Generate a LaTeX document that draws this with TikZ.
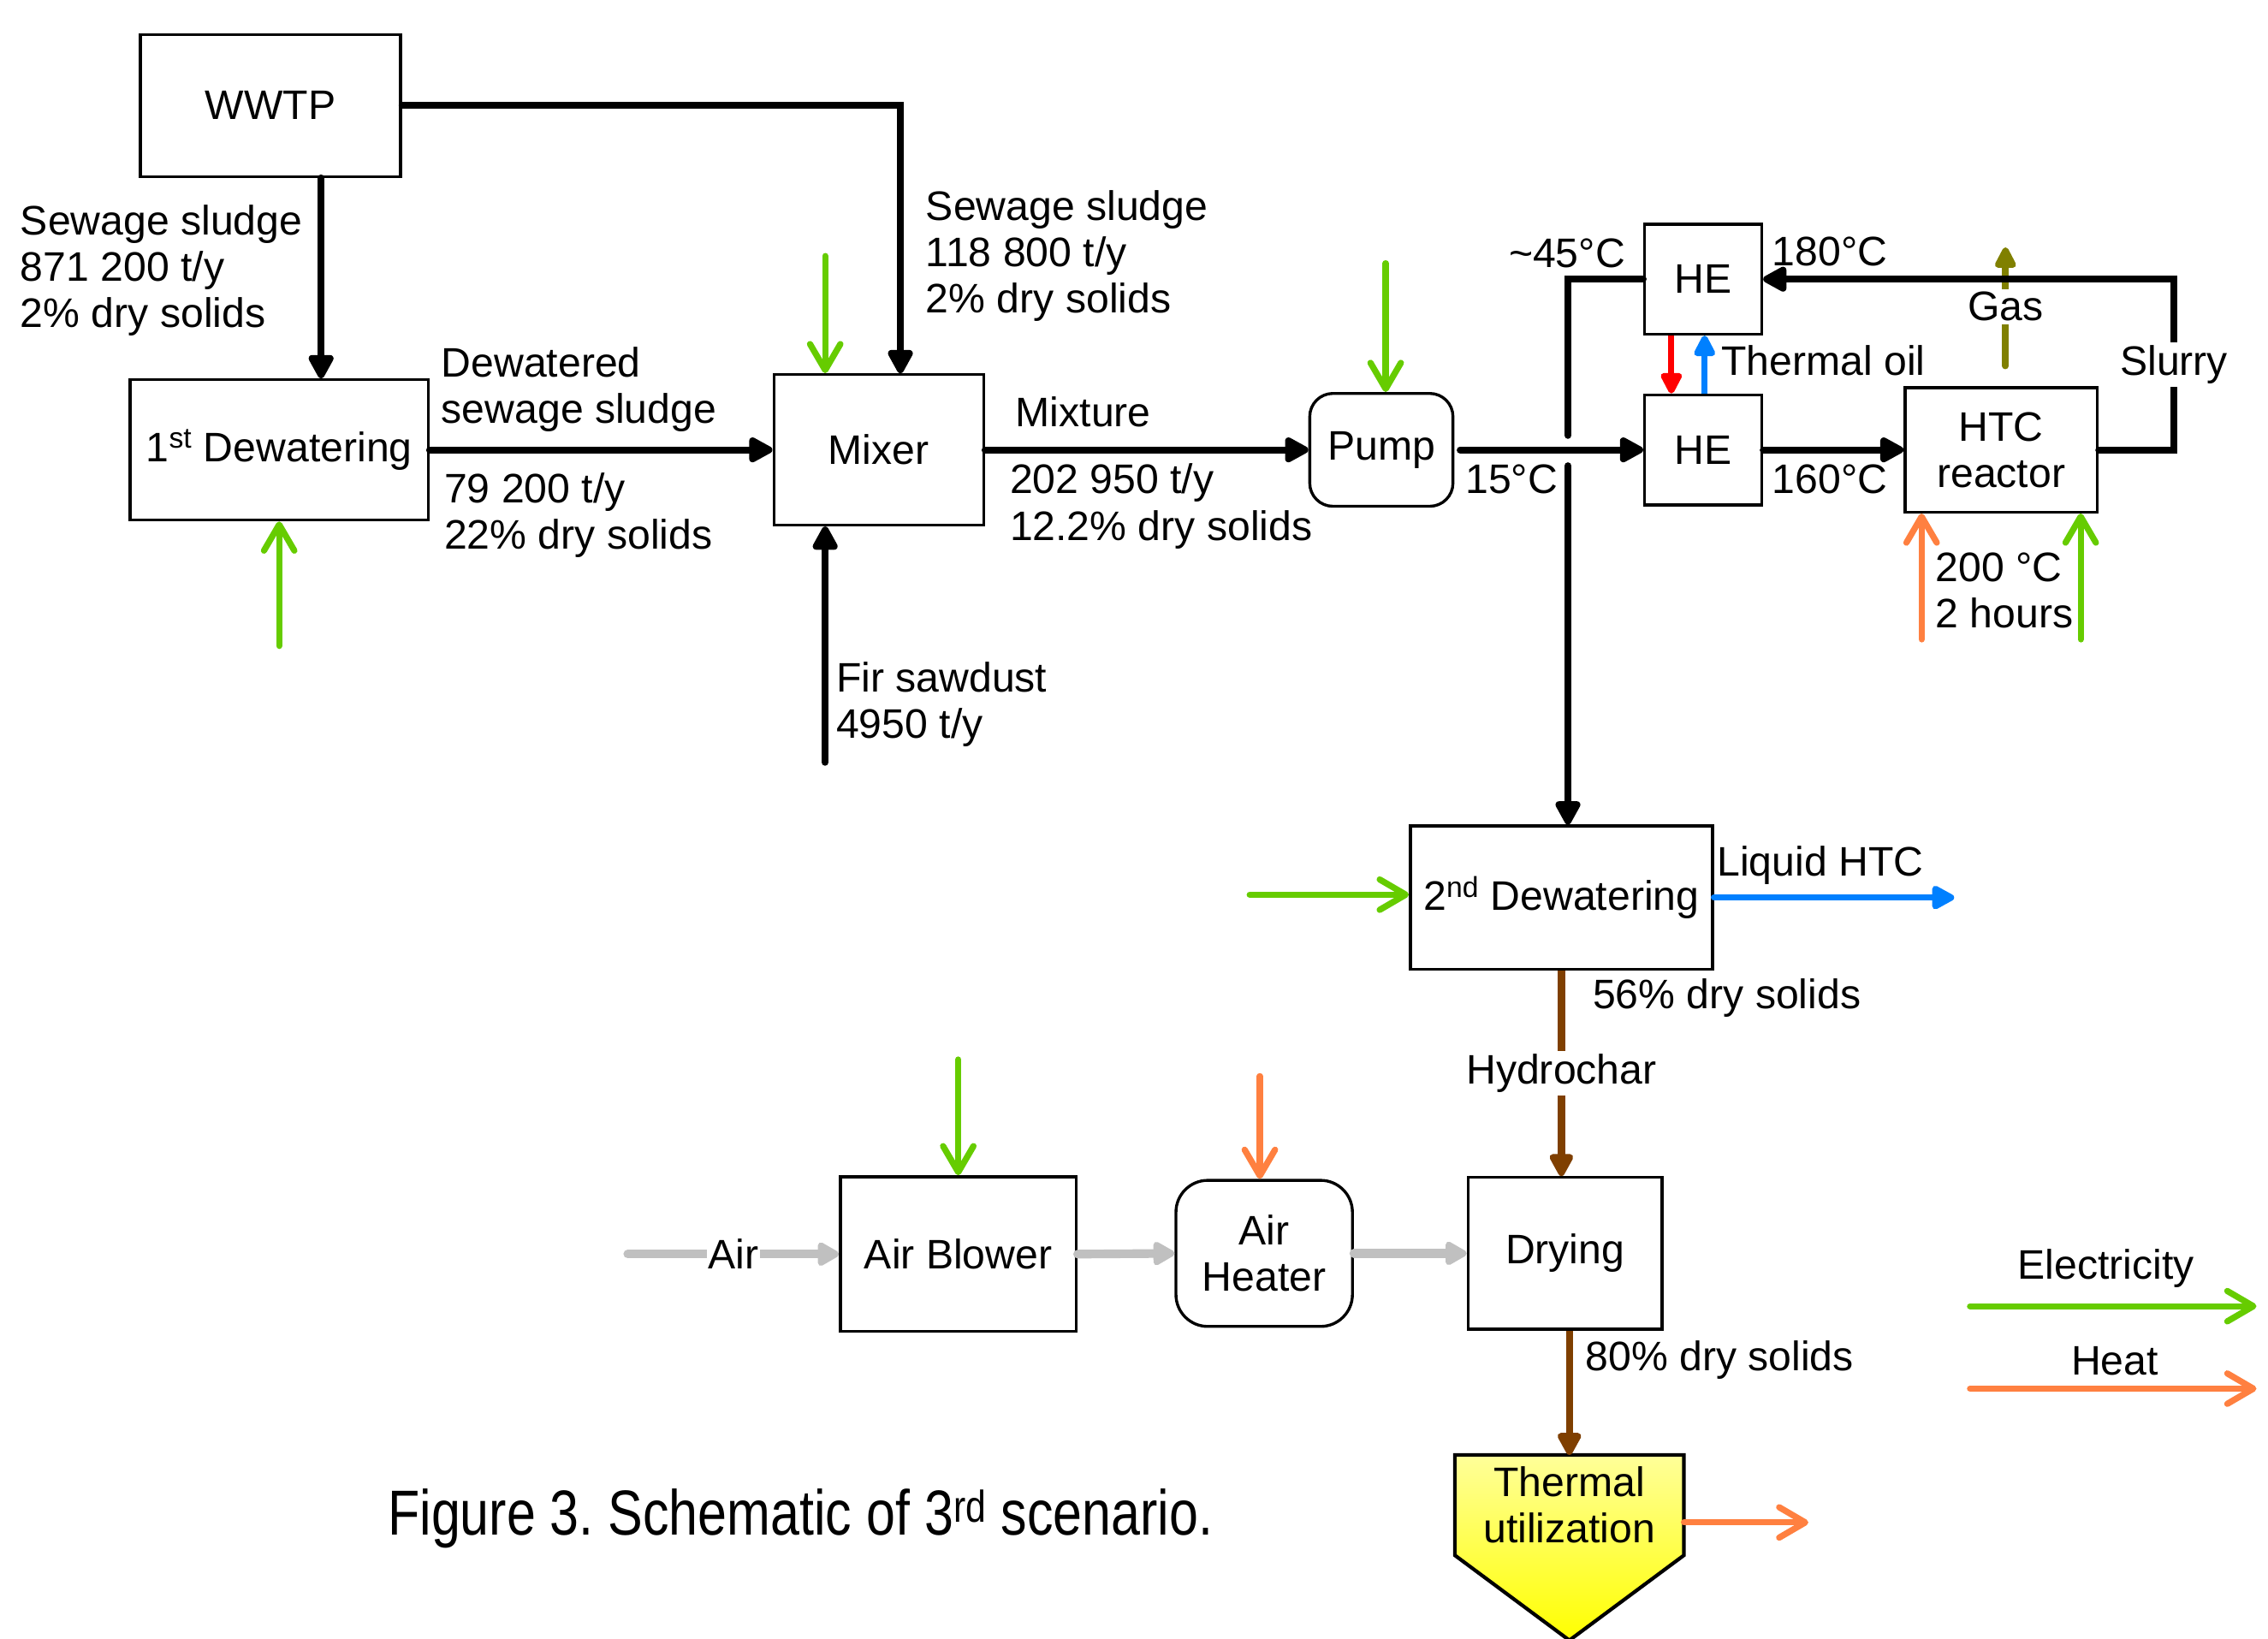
\documentclass[tikz,border=0pt]{standalone}
\usepackage{fontspec}
\setmainfont{Liberation Sans}
\newfontfamily\narrowfont[FakeStretch=0.82]{Liberation Sans}
\usepackage{xcolor}
\usetikzlibrary{arrows.meta,positioning,calc,backgrounds}

\definecolor{elecgreen}{HTML}{66CC00}
\definecolor{heatorange}{HTML}{FF8040}
\definecolor{liqblue}{HTML}{0080FF}
\definecolor{oilred}{HTML}{FF0000}
\definecolor{charbrown}{HTML}{7F3F00}
\definecolor{gasolive}{HTML}{808000}
\definecolor{airgray}{HTML}{C0C0C0}

\begin{document}
\begin{tikzpicture}[
  x=1pt, y=-1pt,
  font=\fontsize{28.5}{32}\selectfont,
  node distance=40pt and 97pt,
  unit/.style={draw, line width=2pt, align=center, inner sep=2pt},
  rounit/.style={unit, rounded corners=16pt},
  lbl/.style={inner sep=0pt, align=left, anchor=west},
  onlink/.style={fill=white, inner sep=2pt},
  flow/.style={line width=4.8pt, line cap=round, -{Triangle[length=19pt, width=19pt, round]}},
  pipe/.style={line width=4.8pt, line cap=round},
  elec/.style={draw=elecgreen, line width=4.3pt, line cap=round, -{Straight Barb[length=18pt, width=21pt, round]}},
  heat/.style={elec, draw=heatorange},
  liquid/.style={draw=liqblue, line width=4.5pt, line cap=round, -{Triangle[length=18pt, width=18pt, round]}},
  oil/.style={line width=4.2pt, -{Triangle[length=17pt, width=16pt, round]}},
  char/.style={draw=charbrown, line width=5pt, -{Triangle[length=18pt, width=18pt, round]}},
  gas/.style={draw=gasolive, line width=4.5pt, line cap=round, -{Triangle[length=17pt, width=16pt, round]}},
  air/.style={draw=airgray, line width=6pt, line cap=round, -{Triangle[length=17pt, width=18pt, round]}}
]
\useasboundingbox (0,0) rectangle (1568,1133);

% units
\node[unit, minimum width=180, minimum height=98] (wwtp) at (187,73) {WWTP};
\node[unit, minimum width=206, minimum height=97] (dew1) at (193,311) {1\textsuperscript{st} Dewatering};
\node[unit, minimum width=145, minimum height=104, right=237pt of dew1] (mixer) {Mixer};
\node[rounit, minimum width=99, minimum height=78] (pump) at (955,311) {Pump};
\node[unit, minimum width=81, minimum height=76] (heT) at (1177.5,193) {HE};
\node[unit, minimum width=81, minimum height=76, below=of heT] (heB) {HE};
\node[unit, minimum width=133, minimum height=86, right=of heB] (htc) {HTC\\reactor};
\node[unit, minimum width=209, minimum height=99] (dew2) at (1079.5,620.5) {2\textsuperscript{nd} Dewatering};
\node[unit, minimum width=163, minimum height=107] (blower) at (662.5,867) {Air Blower};
\node[rounit, rounded corners=22pt, minimum width=122, minimum height=101] (heater) at (874,866.5) {Air\\Heater};
\node[unit, minimum width=134, minimum height=105] (drying) at (1082,866.5) {Drying};
\node[minimum width=158, minimum height=69, inner sep=0pt, align=center] (thermal) at (1085,1040.5) {Thermal\\utilization};
\coordinate (tip) at (thermal.south |- 0,1134);

\begin{scope}[on background layer]
  \fill[white] (0,0) rectangle (1568,1133);
  \draw[line width=2.5pt, top color=yellow!40!white, bottom color=yellow]
    (thermal.north west) -- (thermal.north east) -- (thermal.south east)
    -- (tip) -- (thermal.south west) -- cycle;
\end{scope}

% sludge line
\draw[flow] ([xshift=35pt]wwtp.south) -- ([xshift=29pt]dew1.north);
\draw[flow] (wwtp.east) -| ([xshift=15pt]mixer.north);
\draw[flow] (dew1.east) -- (mixer.west);
\draw[flow] ([xshift=-37pt, yshift=-163pt]mixer.south) -- ([xshift=-37pt]mixer.south);
\draw[flow] (mixer.east) -- (pump.west);
\draw[flow] ([xshift=4pt]pump.east) -- (heB.west);
\draw[flow] (heB.east) -- (htc.west);

% slurry back through HE, then down
\draw[gas] ([xshift=3pt, yshift=14pt]htc.north) -- node[onlink] (gastxt) {Gas} ([xshift=3pt, yshift=96pt]htc.north);
\draw[flow] (htc.east) -- ++(52,0) |- node[onlink, pos=0.25] (slurrytxt) {Slurry} (heT.east);
\coordinate (bend) at ([xshift=-52pt]heT.west);
\coordinate (hop) at (bend |- heB.west);
\draw[pipe] (heT.west) -- (bend) -- ([yshift=10pt]hop);
\draw[flow] ([yshift=-11pt]hop) -- (hop |- dew2.north);

% thermal oil
\draw[oil, draw=oilred] ([xshift=-22pt]heT.south) -- ([xshift=-22pt]heB.north);
\draw[oil, draw=liqblue] ([xshift=1pt]heB.north) -- ([xshift=1pt]heT.south);

% hydrochar
\draw[char] (dew2.south) -- node[onlink] (chartxt) {Hydrochar} (dew2.south |- drying.north);
\draw[char] (thermal.north |- drying.south) -- (thermal.north);
\draw[liquid] (dew2.east) -- ([xshift=166pt]dew2.east);

% air
\coordinate (airin) at ([xshift=-146pt]blower.west);
\draw[air] (airin) -- node[onlink, inner sep=1pt] (airtxt) {Air} (blower.west);
\draw[air] (blower.east) -- (heater.west);
\draw[air] (heater.east) -- (drying.west);

% electricity and heat
\draw[elec] ([yshift=-86pt]dew1.south) -- (dew1.south);
\draw[elec] ([xshift=-37pt, yshift=81pt]mixer.north) -- ([xshift=-37pt]mixer.north);
\draw[elec] ([xshift=3pt, yshift=89pt]pump.north) -- ([xshift=3pt]pump.north);
\draw[heat] ([xshift=-55pt, yshift=-87pt]htc.south) -- ([xshift=-55pt]htc.south);
\draw[elec] ([xshift=55pt, yshift=-87pt]htc.south) -- ([xshift=55pt]htc.south);
\draw[elec] ([xshift=-110pt, yshift=2pt]dew2.west) -- ([yshift=2pt]dew2.west);
\draw[elec] ([yshift=80pt]blower.north) -- (blower.north);
\draw[heat] ([xshift=-3pt, yshift=71pt]heater.north) -- ([xshift=-3pt]heater.north);
\draw[heat] ([yshift=-12pt]thermal.east) -- ([xshift=86pt, yshift=-12pt]thermal.east);

% labels
\node[lbl] (lwwtp) at (14,187) {Sewage sludge\\871 200 t/y\\2\% dry solids};
\node[lbl] (lbypass) at (640,177) {Sewage sludge\\118 800 t/y\\2\% dry solids};
\node[lbl] (ldew1a) at (305,269) {Dewatered\\sewage sludge};
\node[lbl] (ldew1b) at (307,356) {79 200 t/y\\22\% dry solids};
\node[lbl] (lfir) at (578,487) {Fir sawdust\\4950 t/y};
\node[lbl] (lmixa) at (702,285) {Mixture};
\node[lbl] (lmixb) at (698,350) {202 950 t/y\\12.2\% dry solids};
\node[lbl] (lt15) at (1013,331) {15°C};
\node[lbl] (lt45) at (1043,175) {\textasciitilde 45°C};
\node[lbl] (lt180) at (1225,174) {180°C};
\node[lbl] (lt160) at (1225,331) {160°C};
\node[lbl] (loil) at (1190,249) {Thermal oil};
\node[lbl] (lhtc) at (1338,408) {200 °C\\2 hours};
\node[lbl] (lliq) at (1187,598) {Liquid HTC};
\node[lbl] (l56) at (1101,690) {56\% dry solids};
\node[lbl] (l80) at (1096,940) {80\% dry solids};

% legend
\node (legelec) at (1456,877) {Electricity};
\node (legheat) at (1462,941) {Heat};
\coordinate (ela) at (1362,903);
\coordinate (elb) at (1560,903);
\coordinate (hta) at (1362,960);
\coordinate (htb) at (1560,960);
\draw[elec] (ela) -- (elb);
\draw[heat] (hta) -- (htb);

\node[lbl, font=\narrowfont\fontsize{44}{50}\selectfont] (caption) at (268,1050) {Figure 3.\ Schematic of 3\textsuperscript{rd} scenario.};
\end{tikzpicture}
\end{document}
